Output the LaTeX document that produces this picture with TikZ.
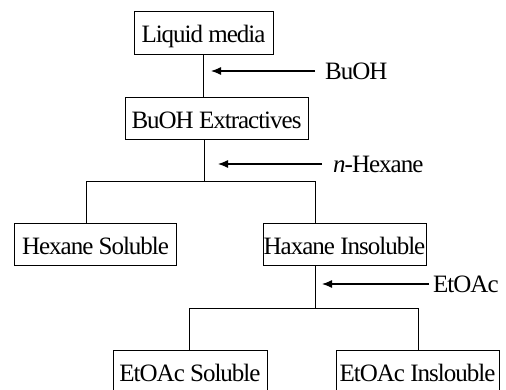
\documentclass[tikz,border=0pt]{standalone}
\usepackage{fontspec}
\setmainfont{Liberation Serif}[LetterSpace=-4]
\usetikzlibrary{arrows.meta, positioning}

\begin{document}
\begin{tikzpicture}[
                x=1pt, y=-1pt,
                boite/.style={draw, rectangle, align=center, line width=1pt, inner sep=0pt,
                    minimum height=42pt, text height=20pt, text depth=0pt,
                    font=\fontsize{25}{25}\selectfont},
                solvant/.style={anchor=west, inner sep=0pt, font=\fontsize{25}{25}\selectfont},
                trait/.style={line width=1pt},
                fleche/.style={line width=1.2pt, -{Latex[length=10pt, width=8pt]}}
            ]
            \useasboundingbox (0,0) rectangle (506,389);

            % Racine : le milieu liquide
            \node[boite, minimum width=139pt, minimum height=43pt] (liquide) at (203.5,32.5) {Liquid media};
            \node[boite, minimum width=183pt] (extraits) at (216.5,118) {BuOH Extractives};

            % Niveau 1 : partage par l'hexane
            \node[boite, minimum width=162pt] (hexsol) at (95.5,244) {Hexane Soluble};
            \node[boite, minimum width=163pt] (hexins) at (344.5,244) {Haxane Insoluble};

            % Niveau 2 : partage par l'acetate d'ethyle
            \node[boite, minimum width=154pt] (acsol) at (190,371) {EtOAc Soluble};
            \node[boite, minimum width=163pt] (acins) at (417.5,371) {EtOAc Inslouble};

            % Solvants
            \node[solvant] (buoh) at (325,71) {BuOH};
            \node[solvant] (hexane) at (333,164) {\textit{n}-Hexane};
            \node[solvant] (etoac) at (433,284) {EtOAc};

            \coordinate (pointe1) at (211,71);
            \coordinate (pointe2) at (218,164);
            \coordinate (pointe3) at (322,284);
            \coordinate (noeud1) at (204,181);
            \coordinate (gauche1) at (86,181);
            \coordinate (droite1) at (315,181);
            \coordinate (noeud2) at (315,308);
            \coordinate (gauche2) at (189,308);
            \coordinate (droite2) at (418,308);

            % Traits
            \draw[trait] (liquide.south) -- (liquide.south |- extraits.north);
            \draw[trait] (noeud1 |- extraits.south) -- (noeud1);
            \draw[trait] (gauche1 |- hexsol.north) -- (gauche1) -- (droite1) -- (droite1 |- hexins.north);
            \draw[trait] (noeud2 |- hexins.south) -- (noeud2);
            \draw[trait] (gauche2 |- acsol.north) -- (gauche2) -- (droite2) -- (droite2 |- acins.north);

            % Fleches
            \draw[fleche] ([xshift=-10pt]buoh.west) -- (pointe1);
            \draw[fleche] ([xshift=-11pt]hexane.west) -- (pointe2);
            \draw[fleche] ([xshift=-4pt]etoac.west) -- (pointe3);

        \end{tikzpicture}
\end{document}
